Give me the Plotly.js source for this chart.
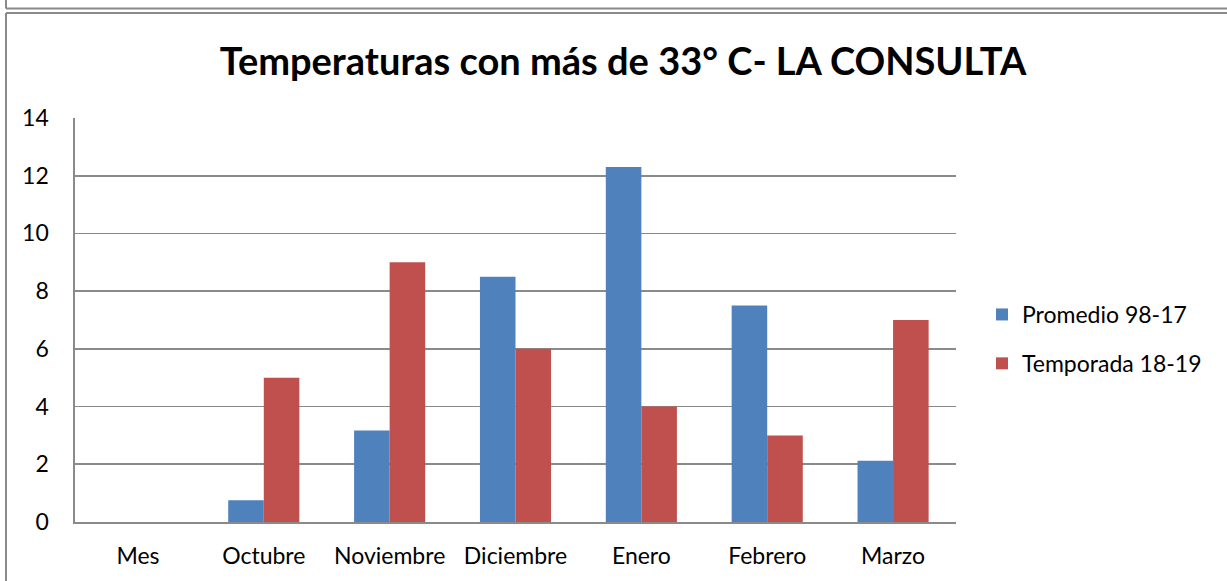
<!DOCTYPE html>
<html>
<head>
<meta charset="utf-8">
<script src="https://cdn.plot.ly/plotly-3.0.1.min.js"></script>
<style>html,body{margin:0;padding:0;background:#fff;}#chart{width:1227px;height:581px;}</style>
</head>
<body>
<div id="chart"></div>
<script>
const categories = ["Mes", "Octubre", "Noviembre", "Diciembre", "Enero", "Febrero", "Marzo"];
const promedio = [0, 0.75, 3.17, 8.5, 12.3, 7.5, 2.12];
const temporada = [0, 5, 9, 6, 4, 3, 7];
const seriesNames = ["Promedio 98-17", "Temporada 18-19"];
const yTicks = [0, 2, 4, 6, 8, 10, 12, 14];

const FONT = "Lato, 'Open Sans', sans-serif";
const L = 75, R = 956, T = 118, B = 522, W = 1227, H = 581;
const px = x => (x - L) / (R - L);
const py = y => (B - y) / (B - T);
const frame = {color: "#8a8a8a", width: 2};

const traces = [
  {type: "bar", name: seriesNames[0], x: categories, y: promedio,
   marker: {color: "#4F81BD", line: {width: 0}}, legendgroup: "a"},
  {type: "bar", name: seriesNames[1], x: categories, y: temporada,
   marker: {color: "#C0504D", line: {width: 0}}, legendgroup: "b"}
];

const layout = {
  width: W, height: H,
  margin: {l: L, r: W - R, t: T, b: H - B, pad: 0},
  paper_bgcolor: "#fff", plot_bgcolor: "#fff",
  font: {family: FONT, size: 23, color: "#000"},
  title: {text: "<b>Temperaturas con más de 33° C- LA CONSULTA</b>",
          font: {family: FONT, size: 38, color: "#000"},
          x: 623 / W, xanchor: "center", y: 1 - 62 / H, yanchor: "middle"},
  barmode: "group", bargap: 0.435, bargroupgap: 0,
  xaxis: {type: "category", showgrid: false, showline: true, linecolor: "#8a8a8a", linewidth: 2,
          ticks: "", ticklabelstandoff: 12, tickfont: {family: FONT, size: 23}, fixedrange: true},
  yaxis: {range: [0, 14], tickvals: yTicks, ticktext: yTicks.map(String),
          showgrid: true, gridcolor: "#8a8a8a", gridwidth: 1.6,
          showline: true, linecolor: "#8a8a8a", linewidth: 1.6, zeroline: false,
          ticks: "", ticklabelstandoff: 20, tickfont: {family: FONT, size: 23}, fixedrange: true},
  legend: {x: px(982), xanchor: "left", y: py(293), yanchor: "top",
           font: {family: FONT, size: 23}, traceorder: "grouped", tracegroupgap: 16,
           bgcolor: "rgba(0,0,0,0)"},
  shapes: [
    {type: "line", xref: "paper", yref: "paper", x0: px(6), x1: px(1240), y0: py(8.5), y1: py(8.5), line: frame},
    {type: "line", xref: "paper", yref: "paper", x0: px(6), x1: px(6), y0: py(-5), y1: py(8.5), line: frame},
    {type: "line", xref: "paper", yref: "paper", x0: px(6), x1: px(1240), y0: py(13), y1: py(13), line: frame},
    {type: "line", xref: "paper", yref: "paper", x0: px(6), x1: px(6), y0: py(13), y1: py(590), line: frame}
  ]
};

Plotly.newPlot("chart", traces, layout, {displayModeBar: false, staticPlot: true});
</script>
</body>
</html>
